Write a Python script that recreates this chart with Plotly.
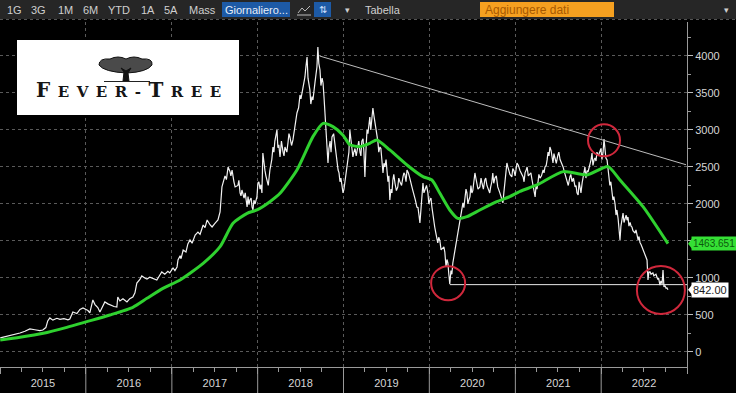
import plotly.graph_objects as go

# ---------------- data ----------------
price_dates = [
    "2015-01-02","2015-01-22","2015-02-12","2015-03-05","2015-03-27","2015-04-17","2015-05-08","2015-05-29",
    "2015-06-19","2015-07-02","2015-07-15","2015-07-23","2015-08-01","2015-08-14","2015-08-31","2015-09-13",
    "2015-09-30","2015-10-17","2015-10-25","2015-11-07","2015-11-24","2015-12-07","2015-12-20",
    "2016-01-04","2016-01-10","2016-01-18","2016-01-27","2016-01-31","2016-02-09","2016-02-21","2016-03-01",
    "2016-03-14","2016-03-22","2016-04-04","2016-04-17","2016-04-30","2016-05-12","2016-05-16","2016-05-25",
    "2016-06-07","2016-06-15","2016-06-24","2016-07-06","2016-07-19","2016-07-28","2016-08-05","2016-08-18",
    "2016-08-26","2016-09-08","2016-09-17","2016-09-29","2016-10-12","2016-10-29","2016-11-11","2016-11-19",
    "2016-12-02","2016-12-15","2016-12-23",
    "2017-01-06","2017-01-14","2017-01-23","2017-01-27","2017-02-05","2017-02-09","2017-02-18","2017-03-02",
    "2017-03-10","2017-03-19","2017-03-28","2017-04-10","2017-04-22","2017-05-01","2017-05-14","2017-05-22",
    "2017-05-31","2017-06-12","2017-06-21","2017-07-04","2017-07-16","2017-07-25","2017-08-02","2017-08-15",
    "2017-08-28","2017-09-05","2017-09-14","2017-09-22","2017-09-27","2017-10-09","2017-10-18","2017-10-26",
    "2017-11-04","2017-11-17","2017-11-21","2017-11-29","2017-12-08","2017-12-12","2017-12-21","2017-12-29",
    "2018-01-02","2018-01-11","2018-01-19","2018-01-23","2018-02-01","2018-02-09","2018-02-22","2018-03-02",
    "2018-03-07","2018-03-15","2018-03-24","2018-04-01","2018-04-06","2018-04-19","2018-04-27","2018-05-10",
    "2018-05-18","2018-05-31","2018-06-09","2018-06-17","2018-06-30","2018-07-08","2018-07-13","2018-07-21",
    "2018-07-30","2018-08-03","2018-08-11","2018-08-20","2018-08-24","2018-09-02","2018-09-10","2018-09-14",
    "2018-09-23","2018-10-02","2018-10-06","2018-10-14","2018-10-23","2018-10-27","2018-11-05","2018-11-13",
    "2018-11-26","2018-12-09","2018-12-17","2018-12-26","2018-12-30",
    "2019-01-07","2019-01-15","2019-01-24","2019-01-28","2019-02-06","2019-02-10","2019-02-19","2019-03-03",
    "2019-03-12","2019-03-20","2019-03-29","2019-04-02","2019-04-11","2019-04-15","2019-04-23","2019-05-02",
    "2019-05-06","2019-05-15","2019-05-23","2019-05-27","2019-06-05","2019-06-13","2019-06-18","2019-06-26",
    "2019-07-05","2019-07-09","2019-07-17","2019-07-22","2019-07-30","2019-08-08","2019-08-20","2019-08-29",
    "2019-09-11","2019-09-19","2019-09-28","2019-10-10","2019-10-19","2019-10-28","2019-11-09","2019-11-18",
    "2019-11-22","2019-12-01","2019-12-05","2019-12-13","2019-12-26",
    "2020-01-03","2020-01-12","2020-01-20","2020-01-24","2020-02-02","2020-02-06","2020-02-15","2020-02-28",
    "2020-03-07","2020-03-16","2020-03-20","2020-03-24","2020-03-28","2020-04-02","2020-04-06","2020-04-10",
    "2020-04-19","2020-04-27","2020-05-02","2020-05-10","2020-05-19","2020-05-23","2020-06-01","2020-06-09",
    "2020-06-17","2020-06-22","2020-06-30","2020-07-09","2020-07-13","2020-07-21","2020-08-03","2020-08-12",
    "2020-08-24","2020-09-02","2020-09-14","2020-09-23","2020-09-27","2020-10-06","2020-10-18","2020-10-27",
    "2020-11-09","2020-11-17","2020-11-26","2020-12-04","2020-12-17","2020-12-26",
    "2021-01-08","2021-01-21","2021-02-03","2021-02-11","2021-02-20","2021-03-04","2021-03-13","2021-03-21",
    "2021-03-26","2021-03-30","2021-04-07","2021-04-16","2021-04-29","2021-05-07","2021-05-16","2021-05-24",
    "2021-05-28","2021-06-06","2021-06-10","2021-06-19","2021-07-01","2021-07-10","2021-07-23","2021-07-31",
    "2021-08-09","2021-08-21","2021-08-30","2021-09-12","2021-09-20","2021-09-25","2021-10-03","2021-10-12",
    "2021-10-20","2021-10-24","2021-11-02","2021-11-06","2021-11-15","2021-11-23","2021-12-02","2021-12-06",
    "2021-12-14","2021-12-27",
    "2022-01-04","2022-01-09","2022-01-13","2022-01-17","2022-01-21","2022-01-26","2022-02-03","2022-02-07",
    "2022-02-16","2022-02-20","2022-03-01","2022-03-09","2022-03-14","2022-03-18","2022-03-22","2022-03-26",
    "2022-04-04","2022-04-12","2022-04-17","2022-04-25","2022-05-04","2022-05-12","2022-05-16","2022-05-25",
    "2022-05-29","2022-06-07","2022-06-15","2022-06-24","2022-07-02","2022-07-06","2022-07-15","2022-07-19",
    "2022-07-23","2022-07-28","2022-08-05","2022-08-09","2022-08-18","2022-08-26","2022-09-04","2022-09-08",
    "2022-09-12","2022-09-17","2022-09-21","2022-09-25","2022-09-29","2022-10-04","2022-10-08","2022-10-12",
]
price_values = [
    190,205,230,240,257,280,311,300,
    290,297,330,420,460,430,455,440,
    450,435,446,540,520,575,595,
    570,560,527,640,703,640,600,540,
    620,676,650,630,615,608,743,690,
    720,700,676,720,743,800,932,980,
    1027,1000,986,1010,990,973,1040,1081,
    1050,1090,1068,
    1135,1100,1149,1243,1300,1260,1378,1350,
    1460,1514,1470,1580,1620,1590,1716,1680,
    1784,1720,1689,1740,1784,1892,2230,2380,
    2500,2440,2459,2300,2230,2250,2150,2189,
    2080,1959,2100,2054,1960,1919,2000,2100,
    2284,2200,2149,2689,2450,2324,2459,2600,
    2770,2850,3000,2800,2635,2700,2770,2830,
    2905,2865,3050,3230,3473,3500,3581,3716,
    3986,3700,3541,3450,3405,3650,3851,4122,
    3811,3700,3635,3230,2905,2554,2850,2905,
    2770,2459,2300,2230,2149,
    2300,2554,2700,3000,2800,2635,2750,2797,
    2700,2850,2700,2365,3000,2950,3176,3150,
    3297,3100,2959,2850,2770,2600,2419,2500,
    2459,2300,2054,2200,2324,2280,2230,2300,
    2365,2400,2459,2350,2230,2100,1959,1850,
    1743,2100,2284,2200,2149,
    2050,1959,1800,1689,1550,1473,1500,1419,
    1350,1250,1203,1050,920,1100,1050,1203,
    1350,1473,1600,1784,1900,2014,2100,2149,
    2050,2100,2149,2300,2419,2300,2230,2280,
    2324,2250,2149,2300,2419,2350,2230,2150,
    2014,2300,2554,2450,2365,2450,
    2554,2450,2365,2420,2500,2400,2324,2200,
    2095,2250,2284,2350,2459,2500,2595,2650,
    2770,2650,2554,2600,2662,2600,2500,2400,
    2324,2365,2300,2230,2150,2122,2200,2284,
    2400,2500,2450,2432,2550,2689,2600,2622,
    2700,2730,
    2600,2700,2878,2700,2620,2595,2365,2250,
    2189,2054,2000,1919,1800,1650,1514,1700,
    1878,1800,1850,1824,1750,1689,1640,1608,
    1650,1514,1480,1419,1350,1300,1243,973,
    1080,1081,1060,1068,1040,1014,950,905,
    960,920,1108,878,900,860,865,842,
]

# extra intermediate closes (merged by date below)
extra_dates = [
    "2017-08-21","2017-09-09","2017-10-13","2017-10-22","2017-11-09","2017-11-25","2017-12-04","2017-12-16",
    "2018-01-06","2018-01-15","2018-01-27","2018-02-05","2018-02-15","2018-02-26","2018-03-11","2018-03-19",
    "2018-03-28","2018-04-12","2018-04-23","2018-05-05","2018-05-14","2018-05-25","2018-06-04","2018-06-13",
    "2018-06-24","2018-07-04","2018-07-17","2018-07-25","2018-08-07","2018-08-15","2018-08-28","2018-09-06",
    "2018-09-18","2018-09-27","2018-10-10","2018-10-18","2018-10-31","2018-11-09","2018-11-20","2018-12-03",
    "2018-12-13","2018-12-21",
    "2019-01-03","2019-01-11","2019-01-19","2019-02-01","2019-02-14","2019-02-24","2019-03-07","2019-03-16",
    "2019-03-25","2019-04-06","2019-04-19","2019-04-27","2019-05-10","2019-05-19","2019-05-31","2019-06-09",
    "2019-06-22","2019-07-01","2019-07-13","2019-07-26","2019-08-03","2019-08-14","2019-08-24","2019-09-05",
    "2019-09-15","2019-09-24","2019-10-04","2019-10-15","2019-10-23","2019-11-03","2019-11-14","2019-11-27",
    "2019-12-09","2019-12-20","2019-12-30",
    "2020-01-08","2020-01-16","2020-01-28","2020-02-10","2020-02-20","2020-03-03","2020-03-12","2020-04-14",
    "2020-04-23","2020-05-06","2020-05-14","2020-05-27","2020-06-05","2020-06-13","2020-06-26","2020-07-04",
    "2020-07-17","2020-07-26","2020-08-08","2020-08-18","2020-08-28","2020-09-08","2020-09-18","2020-10-01",
    "2020-10-12","2020-10-22","2020-11-03","2020-11-13","2020-11-21","2020-11-30","2020-12-09","2020-12-21",
    "2020-12-31",
    "2021-01-14","2021-01-27","2021-02-07","2021-02-16","2021-02-25","2021-03-08","2021-03-17","2021-04-03",
    "2021-04-11","2021-04-22","2021-05-03","2021-05-12","2021-05-20","2021-06-02","2021-06-14","2021-06-24",
    "2021-07-05","2021-07-16","2021-07-27","2021-08-04","2021-08-14","2021-08-25","2021-09-05","2021-09-16",
    "2021-09-29","2021-10-07","2021-10-16","2021-10-28","2021-11-10","2021-11-19","2021-11-27","2021-12-10",
    "2021-12-20","2021-12-31",
    "2022-01-29","2022-02-11","2022-02-24","2022-03-05","2022-03-30","2022-04-08","2022-04-21","2022-04-29",
    "2022-05-08","2022-05-20","2022-06-02","2022-06-11","2022-06-20","2022-06-28","2022-07-10","2022-08-01",
    "2022-08-13","2022-08-22","2022-08-30","2022-09-02",
]
extra_values = [
    2330,2380,2320,2110,2150,1990,2080,2050,
    2300,2260,2550,2380,2250,2520,2700,2950,
    2760,2850,2650,2700,2950,2790,2950,3150,
    3300,3420,3620,3850,3620,3350,3550,3750,
    3900,3600,3450,3050,2750,2700,2950,2600,
    2420,2350,
    2200,2450,2620,2900,2700,2650,2850,2650,
    2880,2700,3050,3000,3200,3000,2700,2750,
    2550,2600,2380,2150,2400,2180,2350,2250,
    2420,2300,2420,2300,2180,2050,1950,1950,
    2150,2250,2000,
    2080,1850,1620,1550,1380,1420,1150,1280,
    1400,1700,1820,1950,2200,2000,2250,2180,
    2350,2200,2350,2200,2350,2200,2230,2280,
    2380,2200,2080,2150,2400,2500,2400,2480,
    2380,
    2520,2400,2300,2460,2380,2420,2250,2200,
    2400,2380,2420,2520,2700,2720,2680,2550,
    2700,2560,2450,2380,2250,2400,2350,2250,
    2300,2150,2350,2350,2480,2600,2520,2580,
    2650,2750,
    2500,2300,2100,1850,1780,1750,1780,1700,
    1700,1620,1560,1560,1450,1380,1280,1050,
    1030,1050,980,1000,
]

ma_dates = [
    "2015-01-02","2015-03-27","2015-07-04","2015-10-12","2016-01-05","2016-04-12","2016-07-19","2016-09-17",
    "2016-11-24","2017-02-05","2017-05-14","2017-07-25","2017-09-18","2017-11-17","2017-12-29","2018-02-22",
    "2018-04-06","2018-06-17","2018-08-24","2018-10-06","2018-11-17","2018-12-30","2019-01-28","2019-03-12",
    "2019-04-23","2019-05-23","2019-07-17","2019-09-28","2019-12-05","2020-01-12","2020-02-15","2020-03-28",
    "2020-05-01","2020-06-09","2020-08-03","2020-10-14","2020-12-08","2021-01-21","2021-04-03","2021-07-23",
    "2021-11-02","2022-01-30","2022-03-22","2022-06-28","2022-10-12",
]
ma_values = [
    162,198,252,333,410,500,604,725,
    860,973,1198,1423,1739,1874,1919,2031,
    2144,2459,2910,3090,3045,2930,2800,2775,
    2820,2865,2730,2527,2369,2324,2144,1919,
    1806,1829,1919,2031,2099,2170,2257,2437,
    2392,2505,2324,1964,1463.651,
]

last_price = 842.00
last_ma = 1463.651
trend_dates = ["2018-09-21", "2022-12-28"]
trend_values = [4000, 2530]
support_dates = ["2020-03-28", "2023-01-01"]
support_value = 910
circle_dates = ["2020-03-21", "2022-01-13", "2022-09-12"]
circle_values = [930, 2860, 838]
circle_radii = [17, 16, 24]

year_bounds = ["2016-01-01","2017-01-01","2018-01-01","2019-01-01",
               "2020-01-01","2021-01-01","2022-01-01"]
y_ticks = [0, 500, 1000, 1500, 2000, 2500, 3000, 3500, 4000]
y_ticktext = ["0", "500", "1000", "", "2000", "2500", "3000", "3500", "4000"]  # 1500 hidden by MA label

# merge both sets of closes in date order
merged = sorted(zip(price_dates + extra_dates, price_values + extra_values))
all_dates = [d for d, _ in merged]
all_values = [v for _, v in merged]

# ---------------- figure geometry ----------------
W, H = 736, 393
ML, MR, MT, MB = 0, 49, 22, 26
PW, PH = W - ML - MR, H - MT - MB


def px(x):
    return (x - ML) / PW


def py(y):
    return (H - MB - y) / PH


def P(x, y):
    return f"{px(x):.5f},{py(y):.5f}"


fig = go.Figure()
fig.add_trace(go.Scatter(x=all_dates, y=all_values, mode="lines",
                         line=dict(color="#f2f2f2", width=1.2), hoverinfo="skip"))
fig.add_trace(go.Scatter(x=ma_dates, y=ma_values, mode="lines",
                         line=dict(color="#2fd12f", width=3, shape="spline", smoothing=0.6),
                         hoverinfo="skip"))

shapes = []
shapes.append(dict(type="line", xref="x", yref="y", x0=trend_dates[0], y0=trend_values[0],
                   x1=trend_dates[1], y1=trend_values[1], line=dict(color="#bdbdbd", width=1)))
shapes.append(dict(type="line", xref="x", yref="y", x0=support_dates[0], y0=support_value,
                   x1=support_dates[1], y1=support_value, line=dict(color="#e8e8e8", width=1)))
for d, v, r in zip(circle_dates, circle_values, circle_radii):
    shapes.append(dict(type="circle", xref="x", yref="y", xsizemode="pixel", ysizemode="pixel",
                       xanchor=d, yanchor=v, x0=-r, x1=r, y0=-r, y1=r,
                       line=dict(color="#d0283c", width=2)))
for d in year_bounds:
    shapes.append(dict(type="line", xref="x", yref="paper", x0=d, x1=d, y0=0, y1=-MB / PH,
                       line=dict(color="#9a9a9a", width=1)))

# toolbar
shapes.append(dict(type="rect", xref="paper", yref="paper", x0=px(0), x1=px(W), y0=py(0), y1=py(19),
                   fillcolor="#262626", line=dict(width=0)))
shapes.append(dict(type="line", xref="paper", yref="paper", x0=px(0), x1=px(W), y0=py(19.5), y1=py(19.5),
                   line=dict(color="#555", width=1, dash="dot")))
shapes.append(dict(type="rect", xref="paper", yref="paper", x0=px(222), x1=px(290), y0=py(2), y1=py(17),
                   fillcolor="#1d5aa6", line=dict(width=0)))
shapes.append(dict(type="rect", xref="paper", yref="paper", x0=px(314), x1=px(331), y0=py(2), y1=py(17),
                   fillcolor="#1d5aa6", line=dict(width=0)))
shapes.append(dict(type="rect", xref="paper", yref="paper", x0=px(480), x1=px(614), y0=py(2), y1=py(17),
                   fillcolor="#f5a020", line=dict(width=0)))
shapes.append(dict(type="path", xref="paper", yref="paper",
                   path=f"M {P(298,13)} L {P(302,8)} L {P(305,11)} L {P(310,6)}",
                   line=dict(color="#bbbbbb", width=1)))
shapes.append(dict(type="line", xref="paper", yref="paper", x0=px(297), x1=px(311), y0=py(15), y1=py(15),
                   line=dict(color="#bbbbbb", width=1)))

# logo
shapes.append(dict(type="rect", xref="paper", yref="paper", x0=px(17), x1=px(239), y0=py(40), y1=py(115),
                   fillcolor="white", line=dict(width=0)))
canopy = (f"M {P(99,65)} Q {P(99,58)} {P(110,59)} Q {P(118,55)} {P(126,59)} Q {P(134,55)} {P(142,59)} "
          f"Q {P(153,58)} {P(152,65)} Q {P(147,72)} {P(127,73)} Q {P(104,72)} {P(99,65)} Z")
shapes.append(dict(type="path", xref="paper", yref="paper", path=canopy,
                   fillcolor="#4a4a4a", line=dict(color="#111", width=1)))
shapes.append(dict(type="path", xref="paper", yref="paper",
                   path=f"M {P(123,81)} L {P(124,72)} L {P(121,68)} L {P(126,71)} L {P(131,68)} L {P(128,73)} L {P(129,81)} Z",
                   fillcolor="#111", line=dict(color="#111", width=1)))
shapes.append(dict(type="line", xref="paper", yref="paper", x0=px(104), x1=px(150), y0=py(81.5), y1=py(81.5),
                   line=dict(color="#222", width=1)))

# value label pointers
shapes.append(dict(type="path", xref="paper", yref="y",
                   path=f"M {px(688):.5f},{last_ma} L {px(693):.5f},{last_ma + 85} L {px(693):.5f},{last_ma - 85} Z",
                   fillcolor="#35e035", line=dict(width=0)))
shapes.append(dict(type="path", xref="paper", yref="y",
                   path=f"M {px(688):.5f},{last_price} L {px(693):.5f},{last_price + 85} L {px(693):.5f},{last_price - 85} Z",
                   fillcolor="#ffffff", line=dict(width=0)))

annotations = []
tb_font = dict(family="Liberation Sans Narrow, Arial Narrow, Liberation Sans, sans-serif", size=11, color="#cfcfcf")
for label, cx in [("1G", 14), ("3G", 38), ("1M", 65), ("6M", 90), ("YTD", 119), ("1A", 148),
                  ("5A", 171), ("Mass", 202), ("Tabella", 383)]:
    annotations.append(dict(xref="paper", yref="paper", x=px(cx), y=py(9.5), text=label,
                            showarrow=False, font=tb_font, xanchor="center", yanchor="middle"))
annotations.append(dict(xref="paper", yref="paper", x=px(256), y=py(9.5), text="Giornaliero...",
                        showarrow=False, font=dict(tb_font, color="#e8eef8"), xanchor="center", yanchor="middle"))
annotations.append(dict(xref="paper", yref="paper", x=px(322.5), y=py(9.5), text="⇅",
                        showarrow=False, font=dict(tb_font, color="#cfe0ff", size=10), xanchor="center", yanchor="middle"))
annotations.append(dict(xref="paper", yref="paper", x=px(347), y=py(9.5), text="▾",
                        showarrow=False, font=dict(tb_font, size=9), xanchor="center", yanchor="middle"))
annotations.append(dict(xref="paper", yref="paper", x=px(483), y=py(9.5), text="Aggiungere dati",
                        showarrow=False, font=dict(tb_font, color="#a85a00", size=12), xanchor="left", yanchor="middle"))
annotations.append(dict(xref="paper", yref="paper", x=px(726), y=py(9.5), text="▾",
                        showarrow=False, font=dict(tb_font, size=9), xanchor="center", yanchor="middle"))

annotations.append(dict(xref="paper", yref="paper", x=px(128), y=py(90),
                        text="<b><span style='font-size:20px'>F</span>\u2002E\u2002V\u2002E\u2002R\u2002-\u2002"
                             "<span style='font-size:20px'>T</span>\u2002R\u2002E\u2002E</b>",
                        showarrow=False, xanchor="center", yanchor="middle",
                        font=dict(family="DejaVu Serif, Liberation Serif, serif", size=15, color="#151515")))

lab_font = "Liberation Sans Narrow, Liberation Sans, sans-serif"
annotations.append(dict(xref="paper", yref="y", x=px(691), y=last_ma, text=f"{last_ma:.3f}",
                        showarrow=False, xanchor="left", yanchor="middle", bgcolor="#35e035",
                        borderpad=1, font=dict(family=lab_font, size=10, color="#0c5a0c")))
annotations.append(dict(xref="paper", yref="y", x=px(691), y=last_price, text=f"{last_price:.2f}",
                        showarrow=False, xanchor="left", yanchor="middle", bgcolor="#ffffff",
                        borderpad=1, font=dict(family=lab_font, size=11, color="#1a1a1a")))

axis_font = dict(family="Liberation Sans Narrow, Liberation Sans, sans-serif", size=11, color="#d6d6d6")

fig.update_layout(
    width=W, height=H,
    margin=dict(l=ML, r=MR, t=MT, b=MB, autoexpand=False),
    paper_bgcolor="#000000", plot_bgcolor="#000000",
    showlegend=False,
    shapes=shapes, annotations=annotations,
    xaxis=dict(type="date", range=["2015-01-01", "2023-01-01"], tick0="2015-01-01", dtick="M12",
               ticklabelmode="period", tickformat="%Y", ticks="outside", ticklen=6, tickcolor="#9a9a9a",
               showgrid=True, gridcolor="#5a5a5a", griddash="dot", gridwidth=1,
               showline=True, linecolor="#9a9a9a", linewidth=1, tickfont=axis_font,
               minor=dict(dtick="M3", ticks="outside", ticklen=4, tickcolor="#9a9a9a", showgrid=False),
               fixedrange=True, zeroline=False, automargin=False),
    yaxis=dict(side="right", range=[-203, 4459], tickvals=y_ticks, ticktext=y_ticktext,
               ticks="outside", ticklen=5, tickcolor="#bdbdbd", showgrid=True, gridcolor="#5a5a5a",
               griddash="dot", showline=True, linecolor="#9a9a9a", tickfont=axis_font,
               minor=dict(tickvals=[v + 250 for v in y_ticks], ticks="outside", ticklen=3,
                          tickcolor="#9a9a9a", showgrid=False),
               zeroline=False, fixedrange=True, automargin=False),
)

fig.write_html("out.html", config={"displayModeBar": False},
               post_script="document.body.style.margin='0';document.body.style.padding='0';"
                           "document.body.style.overflow='hidden';")
